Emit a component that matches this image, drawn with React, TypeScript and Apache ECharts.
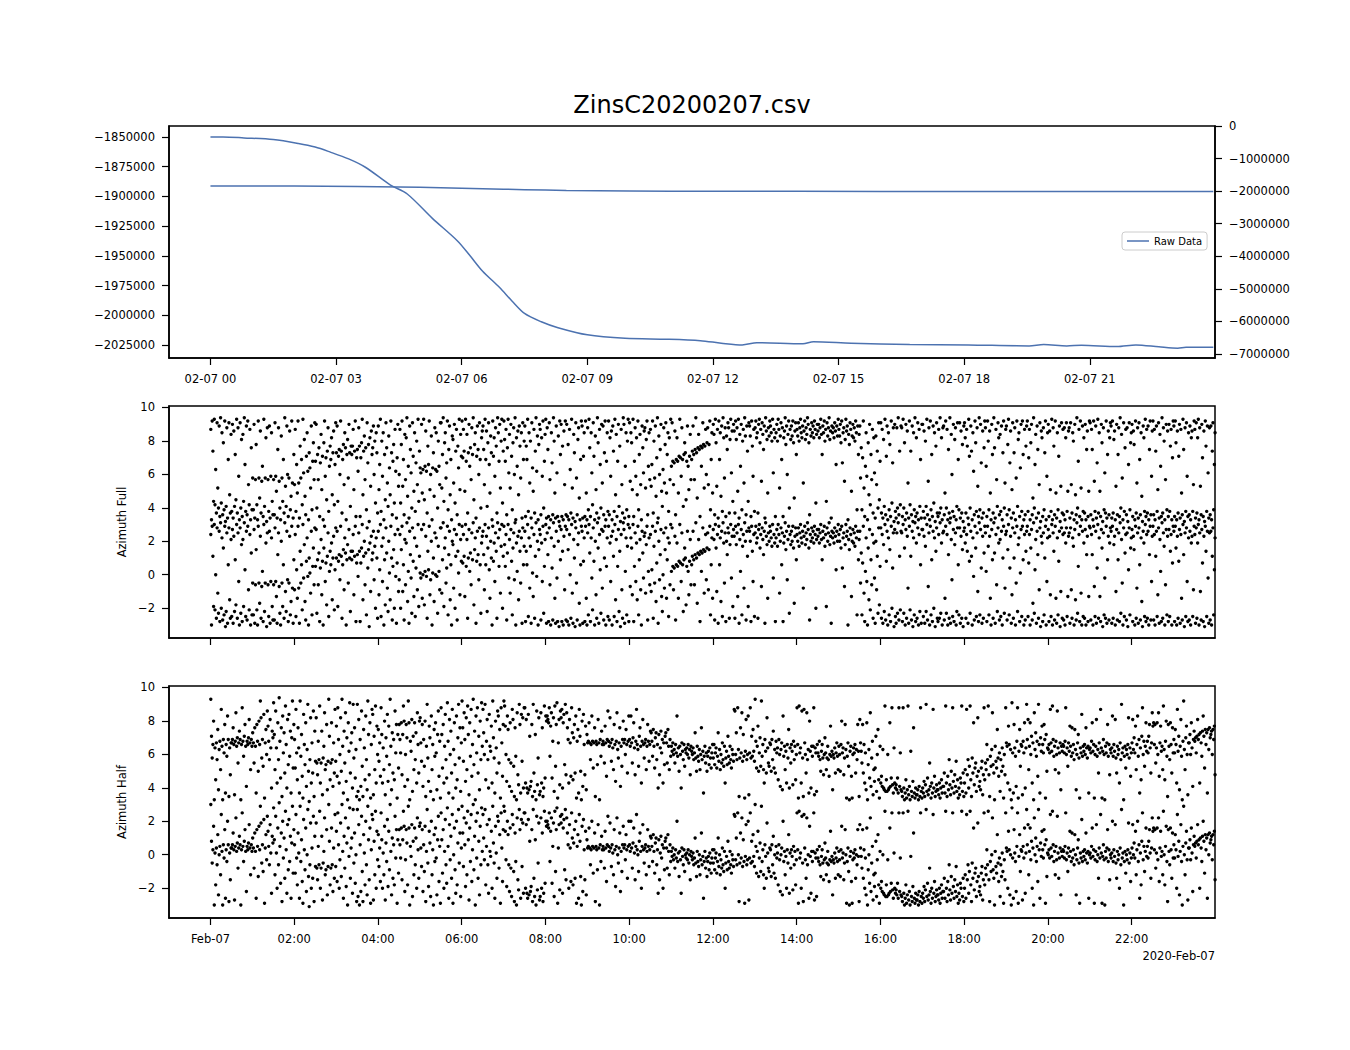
import React, { useEffect, useRef } from "react";
import * as echarts from "echarts";

// ---------- Top panel: raw data lines ----------
const rawLeftHours = [0, 0.3, 0.8, 1.5, 2.1, 2.5, 2.85, 3.3, 3.7, 4.3, 4.7, 5.3, 5.9, 6.2, 6.5, 6.9, 7.2, 7.5, 7.9, 8.3, 9.0, 9.9, 10.9, 11.7, 12.2, 12.7, 13.05, 14.15, 14.4, 15.3, 16.7, 18.1, 19.55, 19.9, 20.45, 20.8, 21.65, 22.1, 22.65, 23.1, 23.3, 23.95];
const rawLeftValues = [-1850000, -1850000, -1850800, -1852200, -1855500, -1858500, -1862600, -1868500, -1875500, -1890500, -1898000, -1918500, -1937500, -1950000, -1963000, -1976500, -1988000, -1998500, -2005500, -2010500, -2016500, -2019400, -2020200, -2021400, -2023500, -2025000, -2023200, -2024100, -2022400, -2023600, -2024600, -2025000, -2025800, -2024700, -2025800, -2025200, -2026400, -2025000, -2026600, -2027700, -2026900, -2026900];

const rawRightHours = [0, 2, 3.5, 4.5, 5.5, 6.5, 7.5, 8.5, 10, 12, 16, 20, 23.95];
const rawRightValues = [-1840000, -1845000, -1857000, -1870000, -1895000, -1925000, -1955000, -1980000, -1995000, -2003000, -2008000, -2010000, -2012000];

const topTickHours = [0, 3, 6, 9, 12, 15, 18, 21];
const bottomTickHours = [0, 2, 4, 6, 8, 10, 12, 14, 16, 18, 20, 22];
const leftTicks = [-2025000, -2000000, -1975000, -1950000, -1925000, -1900000, -1875000, -1850000];
const rightTicks = [-7000000, -6000000, -5000000, -4000000, -3000000, -2000000, -1000000, 0];
const azimuthTicks = [-2, 0, 2, 4, 6, 8, 10];

// ---------- Azimuth samples, read per half-hour window (radians, -pi..pi) ----------
const azimuthFullByHalfHour = [
  [2.4, -3.0, 2.9, 1.1, -1.9, 3.0, -2.1, 0.0, -2.6, 2.8, -1.1, -2.3, 2.6, -2.8, 3.1, -2.0, 2.2, -2.7, 1.6, -2.4, 2.9, -3.1, -2.2, 2.5, -2.9, 0.6, 2.8, -1.5, -2.6, 2.1],
  [-2.5, 2.7, -2.9, 2.3, -2.2, 0.9, -1.8, 3.0, -2.6, 2.5, -0.4, -3.0, 2.8, -2.3, 1.8, -2.8, 2.1, -1.9, 3.1, 0.3, -2.5, 2.6, -2.7, 2.9, -0.9, -2.1, 2.4, -3.0, 1.3, -2.4],
  [-0.5, -2.4, 2.7, -2.9, -0.6, 1.5, -2.1, -3.0, 2.9, -0.5, -1.7, 2.3, -2.6, -0.7, 0.2, -2.8, 3.0, -2.2, -0.5, 1.9, -3.1, 2.5, -0.6, -2.5, 2.6, -2.9, -0.4, 2.2, -1.9, -2.7],
  [-0.6, -2.7, 2.8, -0.4, -1.3, -2.9, 1.2, 2.5, -0.7, -2.3, -3.0, 2.0, -0.5, -1.9, 0.6, -2.6, 3.1, -1.0, -2.2, 2.6, -0.3, -2.8, -0.5, 2.3, -2.4, -1.6, 2.9, -0.8, -2.9, 0.9],
  [-0.9, 2.4, -2.5, 0.3, -1.4, 2.9, -0.8, -2.9, 1.4, -0.5, 0.6, -2.1, 3.0, -0.2, 1.8, -1.6, -2.7, 0.8, 2.2, -0.1, -3.0, 1.0, 0.1, -1.1, 2.6, -2.4, 0.5, 1.6, -0.6, 2.8],
  [0.5, 2.7, -2.3, 0.9, -0.6, 1.3, -2.8, 0.4, 2.1, -1.2, 0.8, -3.0, 1.6, 2.9, -0.4, 0.7, -1.8, 1.1, 2.5, -2.5, 0.2, 1.4, 0.6, 1.9, -1.5, 1.0, 2.3, -2.1, 0.3, 2.8],
  [1.0, 2.6, -1.9, 0.8, 1.2, -0.3, 2.9, 1.1, -2.6, 0.6, 1.5, -0.9, 2.2, 1.3, -3.0, 0.9, 1.8, -0.5, 2.7, 1.0, -2.2, 1.4, 0.9, 1.4, 2.4, -1.2, 1.1, 2.9, -2.8, 0.7],
  [1.2, -0.1, 2.5, 1.4, -2.8, 0.7, 1.6, 3.0, -1.5, 1.1, 2.0, -0.6, 1.3, -2.4, 2.8, 0.4, 1.5, -3.1, 1.9, -1.0, 2.3, 0.9, 1.3, 2.6, -0.3, 1.7, -2.0, 2.2, 1.0, -2.6],
  [2.6, -1.2, 0.3, 3.0, -2.5, 1.7, -0.4, 2.2, -3.0, 0.9, -1.8, 2.8, 1.3, -0.8, -2.2, 2.0, 0.1, -1.5, 2.9, 1.0, -2.7, 0.5, 1.5, -2.0, 2.4, -0.1, -2.9, 0.7, 2.7, -1.0],
  [-0.3, 2.4, -2.0, 1.5, 2.9, -1.0, 0.6, -2.7, 2.1, -0.6, 1.9, 3.1, -1.6, 0.2, -2.9, 2.6, 1.2, -0.2, -2.3, 2.8, 0.8, -1.3, 2.2, -2.5, 0.4, 1.7, -0.9, 3.0, -1.9, 1.1],
  [0.1, -0.2, 2.7, -1.4, 0.0, 3.0, -1.8, 0.2, 2.3, -0.1, -2.6, 1.4, 0.3, 2.9, -1.2, -0.3, 2.0, -3.0, 0.1, 1.0, -1.6, 2.5, 0.0, 2.2, -0.1, -2.3, 1.7, 0.2, -0.9, 2.8],
  [2.8, -1.1, 0.9, 3.1, -1.9, 1.6, 2.2, -0.5, 0.4, 2.9, -2.4, 1.2, 2.6, -1.5, 0.6, -3.0, 2.0, 1.8, -0.8, 2.7, -2.0, 1.1, 2.4, -2.7, 1.4, 0.1, 3.0, -1.2, 2.1, 0.8],
  [2.9, 0.7, 2.4, 1.1, -1.3, 3.0, 0.5, 2.1, -2.6, 1.0, 2.7, 0.2, 1.3, -0.6, 2.5, 0.9, 3.1, -1.8, 1.5, 2.2, -2.9, 0.8, 2.6, 1.2, -0.3, 2.8, 0.6, -2.3, 1.9, 2.3],
  [2.6, 1.2, -0.9, 3.0, 0.6, 2.3, -2.2, 1.6, 2.8, 0.3, -1.4, 2.0, 1.0, -3.0, 2.9, 0.8, 1.9, -0.4, 2.5, 1.4, -2.6, 3.1, 2.2, 0.5, 2.7, -1.1, 1.7, 3.0, -2.0, 1.1],
  [2.9, 1.8, 0.5, 2.4, -2.7, 1.3, 3.0, -0.2, 2.1, -1.1, 2.7, 0.8, -2.4, 1.6, 2.5, -0.3, 3.1, -3.0, 1.9, 0.2, 2.3, -1.5, 2.6, 1.4, -0.5, 2.2, -2.9, 2.8, 0.6, 1.7],
  [2.6, -2.8, 1.4, 0.6, 3.0, -2.5, 2.2, -0.8, 1.7, -2.9, 2.8, 0.1, -1.3, 2.4, -2.6, 1.1, 3.1, -0.1, 2.0, -3.0, 1.5, 2.7, 2.4, -2.7, 1.9, -0.4, 2.9, -2.3, 0.5, 2.1],
  [3.0, -2.9, 2.5, 1.2, -2.8, 2.8, -0.6, -3.0, 2.2, 0.4, -2.7, 3.1, 1.7, -1.4, -2.9, 2.6, -0.2, -2.8, 2.0, -3.1, 2.9, 0.9, 2.7, -2.8, 1.4, -3.0, 2.3, -0.9, 2.9, -2.7],
  [2.7, -2.8, 1.5, -3.0, 2.4, 0.0, -2.6, 3.0, -1.1, -2.9, 2.1, 1.0, -3.1, 2.8, -0.5, -2.7, 1.8, 2.5, -1.7, -3.0, 0.6, 2.9, 2.6, -2.9, 0.8, 2.2, -2.8, 2.9, -1.4, -3.0],
  [2.5, -2.4, 3.0, 1.3, -2.8, 2.2, -0.2, -2.1, 2.8, 0.8, -3.0, 2.0, -1.2, -2.6, 3.1, 1.6, -2.9, 2.4, 0.3, -2.3, 2.7, -0.8, 2.6, -2.7, 1.0, 2.9, -3.0, 0.5, 2.2, -2.5],
  [2.9, -2.7, 1.9, -0.4, 2.3, -3.0, 2.6, 1.1, -2.5, 3.0, -1.5, 2.1, -2.8, 0.5, 2.7, -2.2, 1.4, -3.1, 2.4, -0.9, -2.6, 3.1, 2.7, -2.9, 0.2, 2.2, -2.4, 1.7, 3.0, -2.8],
  [2.8, -0.7, 2.2, 1.6, -1.2, 3.0, -2.8, 0.5, 2.5, -0.4, 1.9, -1.5, 2.9, -2.4, 0.9, 2.1, -0.9, -3.0, 2.6, 1.3, -0.2, 2.3, 2.5, -1.1, 1.8, 2.9, -2.7, 0.2, 2.2, -0.6],
  [2.4, -1.0, 0.3, 2.9, -2.6, 1.7, -0.5, 2.6, -1.6, 0.7, 3.1, -2.9, 2.0, -0.3, 1.2, 2.7, -1.3, -2.2, 0.0, 2.5, -0.8, 1.5, 2.8, -1.4, 0.9, 2.2, -2.5, 1.9, -0.6, 3.0],
  [0.2, 2.8, 0.5, -0.9, 0.4, 2.3, -2.7, 0.6, 1.9, 0.5, -1.4, 0.8, 3.0, 0.7, -0.4, 2.5, 0.6, -2.2, 0.9, 1.6, 1.0, -1.8, 0.5, 2.6, 0.2, -1.2, 0.8, 2.1, -0.6, 0.6],
  [1.1, 2.6, 0.9, -0.6, 1.2, 3.1, 1.0, -1.7, 1.3, 2.1, 1.2, -2.8, 1.4, 0.2, 1.3, 2.8, 1.5, -1.1, 1.4, 2.4, -0.3, 1.6, 2.5, -0.9, 1.5, 2.9, -2.4, 0.6, 2.2, -1.4],
  [2.7, 2.1, -2.7, 3.0, 1.6, -1.0, 2.4, -2.9, 2.9, 0.6, 2.2, -1.6, 2.6, -2.5, 3.1, 1.9, -0.5, 2.5, -2.8, 2.0, 1.2, 2.8, 2.5, -2.6, 1.8, 3.0, -0.2, 2.3, -1.9, 2.7],
  [2.3, -2.6, 2.9, 1.8, 2.5, -1.3, 3.0, -2.9, 2.1, 0.2, 2.7, -2.4, 1.7, 2.4, -0.8, 3.1, 2.0, -2.7, 2.6, 1.1, -1.9, 2.8, 2.6, 2.0, -2.8, 2.9, 1.4, -0.4, 2.4, -2.5],
  [2.5, 2.9, 1.9, 2.2, -2.6, 2.7, 3.0, 1.6, 2.4, -0.7, 2.8, 2.1, 1.2, 2.6, -2.9, 3.1, 2.3, 1.8, -1.4, 2.5, 2.0, 2.9, 2.6, 2.2, 1.7, 3.0, -0.2, 2.4, 1.9, -2.8],
  [2.2, 2.7, 1.7, 3.0, 2.4, -1.1, 2.0, 2.8, 0.6, 2.5, -2.8, 1.9, 2.3, 3.1, 1.5, 2.6, -0.3, 2.1, 2.9, -2.3, 2.4, 1.8, 2.6, 2.0, 2.9, 1.6, -1.7, 2.3, 2.8, 0.9],
  [2.4, 2.0, 2.8, 1.7, 2.5, 3.0, 2.2, 1.9, 2.6, -0.8, 2.3, 2.9, 1.8, 2.5, 2.1, 3.1, 2.7, 1.6, -2.7, 2.4, 2.0, 2.8, 2.2, 2.6, 1.9, 2.9, 2.4, -2.0, 2.1, 2.7],
  [2.3, 2.7, 1.9, 2.5, 3.0, 2.1, 0.9, 2.6, 2.2, 2.9, 1.7, 2.4, -1.9, 2.8, 2.0, 2.5, 3.1, 1.8, 2.3, -2.9, 2.6, 2.2, 2.5, 1.9, 2.8, 2.3, 0.3, 2.6, 2.0, 3.0],
  [2.4, 2.0, 2.7, 1.6, 2.9, 0.4, 2.2, 2.5, -0.7, 1.8, 3.0, 2.3, 2.6, -3.0, 2.1, 1.5, 2.8, 2.4, -1.3, 2.0, 2.7, 1.9, 2.5, 1.7, 2.9, 2.2, -2.4, 2.6, 0.9, 2.1],
  [2.6, -0.5, 1.3, -2.4, 0.7, 2.9, -1.1, -2.8, 0.2, 2.2, -0.4, -3.0, 1.6, -1.5, 2.7, -2.1, 0.9, -0.6, 2.4, -2.6, 1.9, -0.2, -2.9, 2.0, -0.9, 1.1, -2.3, 2.8, -1.8, 0.5],
  [2.8, -2.6, 2.4, -2.9, 1.8, -2.2, 3.0, -2.7, 0.8, 2.6, -3.0, 2.2, -2.4, 1.5, -2.8, 2.9, -2.0, 0.4, 2.5, -3.1, 2.7, -2.5, -2.9, 2.5, -2.3, 3.1, -2.7, 1.1, -2.1, 2.6],
  [2.5, -2.8, 3.0, -2.3, 1.6, -3.0, 2.7, -2.6, 2.3, -0.8, -2.9, 2.9, -2.1, 1.1, -2.7, 2.6, -3.1, 2.2, -2.4, 3.1, -2.8, 1.9, -2.6, 2.8, -3.0, 2.4, -2.2, 0.6, -2.9, 2.7],
  [2.7, -2.5, 2.3, -2.9, 1.7, -2.2, 3.0, -2.7, -0.7, 2.5, -3.0, 2.9, -2.4, 0.9, -2.8, 2.6, -2.0, 2.2, -3.1, 1.4, 2.8, -2.6, -2.8, 2.4, -2.6, 3.1, -2.3, 1.9, -3.0, 2.5],
  [2.6, -2.7, -1.4, 2.9, -2.3, 2.4, -3.0, 1.2, -2.6, 3.1, -2.9, 2.1, -0.3, -2.5, 2.7, -2.8, 1.8, 2.5, -3.0, -2.2, 2.8, 0.6, -2.4, 2.8, -2.9, 2.3, -2.6, 1.5, -3.1, 2.6],
  [2.8, 1.9, -2.6, 2.4, 1.4, -2.9, 3.0, 0.8, -2.3, 2.6, 1.1, -3.0, 2.2, -0.1, -2.7, 2.9, 1.6, -2.5, 2.5, -1.0, -2.8, 3.1, -2.4, 2.7, 0.4, -2.9, 2.3, -2.6, 1.3, 2.9],
  [2.5, 0.2, -2.8, 2.9, 1.7, -2.4, 2.3, -1.4, -3.0, 2.7, 0.9, -2.6, 3.1, 1.3, -2.9, 2.4, -0.6, -2.2, 2.8, 1.9, -2.7, 2.1, -2.5, 2.6, -3.0, 1.0, 2.9, -2.3, -0.8, 2.4],
  [2.6, -2.7, 1.5, 3.0, -2.4, 0.4, 2.3, -2.9, -1.2, 2.8, -2.6, 1.0, 2.5, -3.0, -0.5, 2.9, -2.2, 1.8, 2.2, -2.8, 0.1, 2.7, -2.5, 2.9, 0.9, -3.0, 2.4, -2.7, 1.4, 2.6],
  [2.9, -2.5, 0.7, 2.4, -3.0, 1.6, 2.7, -2.7, -1.7, 3.1, -2.3, 0.3, 2.1, -2.9, 2.6, 1.2, -2.6, -0.9, 2.8, -3.1, 2.3, 1.9, -2.8, 2.5, -2.4, 1.0, 2.9, -3.0, -0.4, 2.2],
  [2.7, -2.8, 2.3, -1.2, -2.5, 3.0, -3.0, 2.5, 1.4, -2.7, 2.9, -1.4, -2.9, 2.2, -2.4, 0.8, 2.6, -3.1, -1.0, 2.8, -2.6, 2.4, -2.7, 2.5, -3.0, 1.9, 2.8, -2.5, -1.3, 2.3],
  [2.5, -2.9, 2.8, -0.9, -2.6, 2.2, 1.7, -3.0, 2.7, -1.5, -2.7, 3.1, -2.3, 0.5, 2.4, -2.8, 2.9, -1.1, -3.0, 2.6, -2.5, 1.9, -2.6, 2.7, -3.0, 1.2, 2.3, -2.8, -1.3, 2.9],
  [2.8, -2.7, 2.4, 1.2, -3.0, 2.9, -0.7, -2.5, 2.6, -2.9, 0.4, 3.0, -2.6, 2.2, -1.3, -2.8, 2.7, 1.6, -3.1, 2.5, -2.4, -0.2, -2.6, 2.9, -2.9, 0.9, 2.3, -2.7, 1.9, 2.8],
  [2.6, -2.9, 2.9, -2.6, 1.8, 2.3, -3.0, -1.0, 2.7, -2.7, 0.9, 2.5, -2.8, 3.1, -2.3, 2.1, -0.5, -3.0, 2.8, -2.5, 1.3, 2.4, -2.7, 2.5, -3.1, 0.3, 2.8, -2.4, 1.6, 2.2],
  [2.7, -2.8, 2.3, 1.5, -3.0, 2.9, -2.6, -0.8, 2.5, -2.9, 2.8, 0.6, -2.7, 2.2, -1.6, -3.1, 2.6, 1.9, -2.5, 3.0, -2.8, 2.4, -2.6, 2.6, -3.0, 1.2, 2.9, -2.7, -0.4, 2.3],
  [2.9, -2.7, 2.4, -3.0, 1.1, 2.6, -2.5, -1.2, 2.8, -2.9, 2.1, 0.2, -2.8, 3.1, -2.6, 2.5, 1.7, -3.0, -0.6, 2.7, -2.4, 2.3, -2.8, 2.7, -2.5, 1.4, 2.4, -3.0, 0.7, 2.9],
  [2.6, -2.8, 2.9, 1.6, -3.0, 2.3, -2.6, 0.8, 2.7, -2.9, 2.4, -1.4, -2.7, 3.0, 1.2, -3.1, 2.5, -2.5, 2.8, -0.4, -2.8, 2.2, -2.7, 2.6, -3.0, 1.9, 2.3, -2.5, -0.9, 2.9],
  [2.4, -2.9, 2.8, -2.6, 1.9, 3.0, -3.0, 2.5, -1.0, -2.7, 2.7, 0.7, -2.8, 2.3, -3.1, 2.9, 1.4, -2.5, 2.6, -0.2, -2.9, 2.5, -2.7, 2.6, -3.0, 1.1, 2.8, -2.4, 0.3, 2.2],
];

const azimuthHalfByHalfHour = [
  [3.0, 0.8, -0.5, 0.3, 1.7, -3.0, 0.1, -1.8, 0.4, -0.6, 1.2, -2.4, 0.0, 0.5, -1.2, 2.4, 0.2, -3.0, 0.6, -0.2, 1.5, -2.6, 0.3, -0.4, 2.0, 0.6, -2.8, 0.1, -1.5, 0.4],
  [0.4, 0.6, 1.3, 0.3, -2.7, 0.5, 2.2, 0.2, 0.7, -0.8, 0.4, 1.1, 0.6, -3.0, 0.3, 2.5, 0.5, -0.4, 0.8, 1.5, 0.2, -2.2, 0.5, 0.3, 0.7, 1.8, 0.4, -1.2, 0.6, 0.2],
  [1.0, 0.4, -0.8, 1.3, 0.2, -2.6, 1.5, 0.5, -1.3, 1.7, 0.3, 2.9, 1.9, -0.5, 0.6, -1.0, 2.1, -2.9, 0.4, 1.2, -0.3, 2.3, 1.4, 0.5, -0.6, 1.8, 0.1, -2.3, 1.1, 0.7],
  [2.8, 0.9, -1.2, 2.3, 0.1, -2.0, 1.6, -0.6, 3.1, 0.5, -1.7, 1.3, -2.8, 2.0, -0.2, 1.0, -1.4, 2.6, 0.3, -2.3, 1.8, -0.9, 2.1, -0.4, 1.1, -2.6, 0.7, 2.9, -1.1, 1.5],
  [0.6, -1.1, 2.4, -0.2, -1.8, 1.3, 0.1, -2.6, 2.9, -0.4, 0.9, -1.6, -2.9, 2.1, 0.3, -0.9, 1.6, -2.2, 0.0, 2.7, -1.3, -3.1, -0.6, 1.9, -2.0, 0.4, -1.4, 2.3, -2.8, 1.1],
  [-0.7, 1.9, -0.8, -1.5, 0.5, -0.6, 2.6, -2.0, -0.8, 1.1, -2.7, -0.5, 0.2, 2.2, -1.2, -0.9, 1.5, -2.4, -0.7, 3.0, 0.8, -1.8, -0.8, 1.6, -0.6, -2.2, 0.4, -1.4, 2.4, -0.7],
  [1.4, -1.6, 2.5, 0.6, -2.0, -0.3, 1.9, -1.3, 3.0, 0.2, -2.6, 1.1, -0.8, 2.2, -1.9, 0.7, -3.0, 1.6, -0.1, 2.8, -1.4, 0.4, 1.0, -2.3, 2.7, -0.5, 1.3, -1.7, 0.0, -2.8],
  [2.7, -2.5, 1.8, -3.0, 0.6, -2.2, 2.3, -1.0, -2.8, 1.2, 0.1, -1.8, 2.0, -0.6, -2.4, 2.9, 0.9, -1.5, 1.6, -2.9, 0.3, 2.4, 2.1, -2.7, 0.8, -1.2, 2.6, -2.0, 1.4, -0.3],
  [1.2, -0.7, 0.4, -1.6, 2.5, 0.9, -2.0, 0.1, -1.2, 1.7, -2.7, 0.7, -0.4, 2.1, -1.9, 1.4, -0.9, 3.0, 0.2, -2.4, 1.0, -1.4, 0.6, -1.8, 2.3, -0.2, 1.5, -2.9, 0.9, -1.1],
  [1.5, 0.6, -0.2, 1.6, -1.5, 0.9, 2.6, 1.7, -2.2, -0.3, 1.5, 0.7, -1.8, 2.9, 1.6, -3.0, 0.5, -0.1, 1.8, -2.5, 0.8, -1.2, 1.6, -0.6, 1.0, -2.0, 2.2, 0.3, -1.4, 1.7],
  [1.9, 0.4, -0.7, 1.5, -2.2, 0.6, -1.0, 1.7, -2.8, 0.2, 2.7, -0.5, -1.9, 1.4, 0.7, -2.5, 2.0, -1.2, 0.3, -3.0, 1.2, -0.4, 1.6, -0.2, -2.4, 0.9, 2.3, -1.6, 0.5, -2.9],
  [2.5, 0.9, -1.1, 1.5, -2.0, 0.2, 2.1, -0.6, -1.7, 2.8, 0.5, -2.6, 1.8, -0.3, 1.1, -1.4, 2.4, -2.9, 0.0, 1.6, -0.9, -2.3, 2.0, -1.8, 0.7, 2.7, -0.5, 1.3, -2.5, 0.4],
  [2.9, 1.3, -0.7, 2.2, 0.6, -1.9, 1.9, -1.2, 2.6, 0.9, -2.7, 1.6, -0.4, 2.4, -1.6, 0.3, 3.0, -0.9, 1.1, -3.0, 2.0, -0.2, 2.5, -1.4, 0.8, -2.4, 1.7, -0.6, 2.8, 0.2],
  [2.4, 1.0, -0.3, 2.7, -1.8, 0.5, 1.8, -0.6, -2.3, 2.1, 0.2, -0.1, 1.4, -2.0, 2.9, 0.7, -0.5, -2.6, 1.7, 0.1, -1.4, 2.3, 2.0, -0.8, 1.2, -2.9, 2.5, 0.4, -1.6, 1.5],
  [2.9, 2.6, 1.4, -0.3, -1.9, 2.0, 1.2, -0.6, -2.2, 1.6, -0.8, -2.5, 2.4, 1.8, -1.0, -2.8, 1.3, -0.4, -3.0, 2.2, -1.5, -2.1, 2.7, 1.5, -2.6, 2.1, -0.7, 1.9, -2.3, 2.5],
  [2.5, -2.0, 1.8, -2.3, -2.6, 2.1, -2.4, 0.8, -2.2, -1.9, 1.5, -2.8, 2.7, -1.4, -2.5, 0.9, -3.0, 2.3, -2.1, -0.5, 1.9, -2.7, -2.5, 2.2, -2.0, 1.3, -2.8, -2.3, 2.6, -1.7],
  [2.0, 1.7, 2.0, 1.8, 1.6, 2.5, -0.4, 1.4, 2.2, -1.7, 0.5, 1.9, -2.5, 2.6, -1.0, 1.5, 2.8, -2.9, 0.4, 1.8, -2.1, 2.3, 1.9, 2.4, -2.3, 1.6, 2.1, -0.9, 2.7, -1.5],
  [2.2, 1.3, 0.6, -2.0, 1.8, 0.4, -1.6, 2.5, 1.0, -1.8, 0.7, 1.5, -1.4, 2.0, -2.9, 0.5, 1.2, -2.6, 2.4, 0.8, -1.3, -3.0, 1.7, -2.2, 2.1, 0.3, -1.5, 1.4, -2.4, 0.9],
  [0.4, 0.5, 1.6, 0.4, -0.6, 0.3, 2.0, 0.5, -1.1, 0.4, 1.3, -2.8, 0.5, 0.3, -0.9, 1.8, 0.4, -3.0, 0.6, -0.4, 1.1, 0.3, 0.5, 0.3, -0.8, 1.4, 0.4, -1.6, 0.6, 2.3],
  [0.5, 0.2, 1.9, 0.4, -0.7, 0.6, 0.1, -1.2, 1.5, 0.3, -1.9, 0.5, 2.2, 0.0, -0.5, 0.4, 1.3, -2.2, 0.2, -1.0, 0.6, 1.7, 0.4, 0.6, -0.3, 1.2, 0.3, -1.4, 0.5, 2.0],
  [0.6, 0.2, 2.0, 0.4, -0.8, 0.7, 1.6, 0.1, -1.5, 0.5, 2.4, 0.3, 0.0, -1.0, 0.8, 1.3, 0.2, -2.0, 0.5, 1.8, 0.3, -0.5, 0.4, 0.6, -1.2, 0.2, 1.5, 0.5, -0.7, 0.3],
  [1.1, 1.0, 0.5, -0.4, 1.2, 0.2, -1.1, 0.7, 1.0, -0.6, 0.3, -2.3, 0.9, -1.5, 0.1, 1.1, -0.2, 0.6, -2.0, 0.4, -0.9, 0.8, 1.0, 0.4, -0.8, 1.2, 0.2, -1.2, 0.6, -0.4],
  [0.2, -0.1, 0.4, -0.3, 0.0, -0.8, 0.3, -0.2, 2.0, -0.4, 0.1, -1.3, 0.2, -0.3, -2.3, 0.4, -0.1, -0.6, 0.3, -1.0, 0.0, -0.2, 0.1, -0.3, 0.3, -0.5, 0.0, -1.5, 0.2, -0.1],
  [-0.3, 0.1, -0.6, -0.2, 1.0, -0.5, -1.3, 0.2, -0.4, -0.7, 0.0, -1.2, -0.3, 1.3, -0.6, -0.1, -2.6, -0.4, 0.2, -0.8, -0.2, -1.3, -0.4, -0.1, -0.9, 0.1, -0.5, -1.1, -0.2, 0.3],
  [-0.5, 0.3, -0.9, -0.2, 0.1, -1.1, -0.4, 1.0, -0.7, 0.0, -1.2, -0.3, -0.8, 0.4, -0.6, -1.0, 0.2, -2.0, -0.5, -0.1, -0.9, 0.8, -0.4, -0.8, 0.2, -0.6, -1.1, 0.0, -0.3, -0.7],
  [2.4, 2.3, -0.3, 1.0, -0.6, 2.5, 0.0, -2.8, -0.5, 1.3, -0.2, 2.2, -0.7, 0.9, -0.4, -2.9, -0.1, 1.8, -0.6, -0.3, 2.0, -2.7, -0.2, 2.5, -0.5, 0.8, -0.4, 1.2, -0.1, -0.7],
  [3.0, 0.5, -1.1, 0.2, 1.4, -1.3, -0.2, 0.7, -1.0, 2.9, -0.4, 0.3, -1.2, -2.0, 0.6, -0.1, -1.4, 1.9, 0.1, -0.8, -1.0, 0.4, 0.3, -1.3, 0.6, -0.6, 1.1, -1.1, 0.0, -1.4],
  [0.5, -0.2, 0.1, -1.8, 0.6, -0.3, -2.2, 0.0, 0.4, -2.4, 2.0, -0.4, 0.2, -1.2, -0.1, -2.0, 0.3, -0.5, 1.2, -2.3, 0.1, -0.8, 0.3, -0.1, -2.1, 0.5, -0.6, 0.2, -1.8, -0.3],
  [2.5, 0.3, -2.9, 2.6, -0.2, 0.1, -2.0, 2.3, -0.5, -2.8, 2.4, 0.4, -0.3, -1.4, 2.2, -0.6, 0.0, -2.6, 1.7, -0.1, -2.3, 0.2, -0.4, 0.2, 2.5, -2.7, 0.1, -0.2, -2.5, 0.3],
  [-0.2, -0.4, 0.5, -0.6, -1.3, -0.1, 0.3, -0.5, -1.5, -0.3, 0.7, -0.2, -1.2, -0.5, 0.2, -0.6, -1.6, -0.3, 1.4, -0.4, -0.1, -2.4, -0.3, -0.5, 0.1, -1.4, -0.2, 0.4, -0.4, -1.2],
  [0.2, -0.3, -1.3, 0.3, 1.7, -0.2, 0.1, -1.5, -0.5, 1.5, 0.0, -2.9, -0.4, 0.4, -1.0, -3.0, -0.1, 0.2, -1.6, -2.9, -0.3, 0.1, -0.2, 0.3, -1.4, 0.0, -0.6, 1.5, -0.1, -2.8],
  [1.8, 0.4, -0.1, -0.8, 1.5, -1.4, 0.3, -2.0, -0.2, -2.4, 1.6, -3.0, -0.9, 0.0, -1.7, 2.2, -2.2, -0.5, 0.5, -2.7, -1.2, -1.9, -1.1, 0.8, -2.5, -0.3, 1.2, -1.8, -2.9, 0.2],
  [-2.0, -1.6, -2.2, 0.0, -2.3, -2.4, 2.6, -2.5, -1.8, -2.5, -0.3, -2.4, -2.3, 1.6, -2.2, -1.7, 2.5, -2.1, -2.6, 0.1, -2.0, -2.3, -2.1, -2.4, -1.7, -2.6, 2.5, -2.2, -0.2, -2.4],
  [-2.5, -2.8, 2.5, -2.3, -3.0, -2.6, -1.8, -2.9, -2.4, 2.6, -2.7, -2.2, -3.0, -0.1, -2.5, -2.8, -1.9, 1.3, -2.6, -2.9, -2.3, -2.7, -2.7, -2.4, -3.0, -2.2, -2.8, 2.5, -2.5, -2.9],
  [-2.3, -2.6, -1.9, -2.8, -2.1, 2.7, -2.5, -1.7, -2.7, -2.4, -0.8, -2.2, -2.9, -2.0, -2.6, 2.4, -2.3, -1.6, -2.8, -2.5, -2.1, -2.4, -2.4, -2.7, -2.0, -2.9, -2.3, -1.8, -2.6, -2.2],
  [-2.2, -1.4, -2.6, 2.6, -2.0, -2.8, -1.6, -2.4, -0.6, -2.1, -2.7, -1.3, -2.3, 2.5, -1.9, -2.6, -1.5, -2.2, -0.7, -2.5, -1.8, -2.9, -2.3, -2.7, -1.7, -2.0, 2.6, -2.5, -1.4, -2.8],
  [-2.0, -1.2, -2.6, 2.4, -1.5, -0.6, -2.3, -1.0, 2.6, -1.8, -2.8, -0.5, -1.4, 1.6, -2.1, -1.1, -0.8, -2.5, -1.6, 1.9, -1.3, -2.2, -1.9, -2.4, -1.1, -0.7, -2.7, -1.5, 2.5, -1.8],
  [-0.8, -1.2, 0.3, -0.6, 2.6, -1.5, -2.8, -0.4, -1.0, 0.0, 2.2, -0.9, -1.4, -3.0, 0.2, -0.7, -1.1, 1.2, -0.5, -1.6, -0.2, -2.5, -0.6, -1.3, 0.1, -1.0, -2.9, -0.3, -1.5, 2.5],
  [0.4, 0.2, -2.0, 1.4, 0.3, -2.4, 0.0, -3.0, 2.8, -0.2, -2.6, 1.5, 0.1, -0.4, -2.2, 0.5, 2.5, -2.9, -0.1, 1.2, -1.0, 0.3, 0.2, -2.7, 0.5, -0.2, 1.6, -2.3, 0.1, 2.7],
  [0.6, 1.8, -1.2, 0.2, 1.6, -0.3, 0.8, -2.0, 0.4, -3.0, 2.2, 0.0, 1.0, -0.4, 0.5, -1.6, 2.7, 0.3, -2.6, 0.7, -0.1, 1.4, 0.3, -0.2, 1.5, 0.6, -2.9, 0.9, -1.3, 0.1],
  [0.0, 0.3, -0.2, 2.4, 0.4, -0.1, 2.6, 0.6, -0.4, 0.2, -1.2, 0.5, -0.3, 2.3, 0.1, -1.4, -0.2, 0.4, -2.4, 0.2, -0.1, 0.3, 0.2, -0.2, 0.5, 2.5, -0.3, 0.1, -1.0, 0.4],
  [-0.1, 1.4, 0.2, -0.4, 1.3, -0.2, 0.3, -0.6, 1.2, 0.0, -2.4, -0.3, 0.4, 0.9, -0.5, -2.9, 0.1, -0.2, 2.1, -0.4, 0.2, -0.1, 0.3, -0.3, 1.3, 0.1, -0.5, 0.2, -2.6, 0.0],
  [0.1, -0.2, 0.5, 1.6, -0.1, 0.3, -2.9, -0.3, 0.2, 1.8, -0.4, 0.0, -1.4, 0.4, -0.2, 2.4, 0.1, -2.9, -0.1, 0.6, -0.3, -3.0, 0.2, -0.2, 0.4, 1.5, -0.4, 0.3, -1.5, 0.0],
  [-0.2, 0.1, 2.0, -0.4, 0.3, -0.1, 1.8, -0.5, -1.4, 0.2, -0.3, 0.0, -2.0, 0.4, -0.6, 2.7, -0.2, 0.1, -3.0, -0.4, 0.2, -1.1, 0.0, -0.3, 0.3, 1.9, -0.5, 0.1, -1.6, -0.2],
  [0.4, 1.8, 0.0, 0.7, -0.2, 1.4, -1.2, 0.3, 2.0, -0.4, 0.6, -2.6, 0.1, -1.8, 0.8, 2.5, -0.3, 0.5, -1.0, 0.2, 1.6, -0.1, 0.5, -0.2, 0.8, 1.5, 0.1, -1.4, 0.4, 2.2],
  [1.4, 1.6, 0.3, 1.5, -0.8, 0.1, 1.6, -0.3, 2.2, -1.6, 0.4, 1.4, -0.1, 0.2, -1.2, 2.6, 0.0, -1.8, 0.5, 1.7, -0.4, -2.8, 1.5, 0.2, -0.6, 1.6, 0.3, -1.4, 1.3, -0.2],
  [0.6, -0.2, 1.2, 0.3, -2.0, 2.4, -0.1, 0.8, -2.4, 0.2, 1.8, -0.4, -3.0, 0.5, 2.9, 0.0, -1.2, 0.7, 1.4, -0.3, -2.7, 0.4, 0.4, 0.9, -0.3, 1.6, 0.1, -2.2, 0.6, 1.1],
  [0.5, 0.7, -0.2, 0.8, 1.8, 0.6, 0.9, -2.0, 1.0, 0.4, -0.4, 1.1, 2.0, 0.8, -1.1, 1.2, 0.3, 1.0, -2.6, 1.2, 0.0, 1.3, 0.7, 0.9, 1.1, -0.3, 1.2, 0.6, 1.4, -1.5],
];

const WINDOW_HOURS = 0.5;
const X_MIN = -0.99;
const X_MAX = 23.99;
const FONT = "DejaVu Sans";
const LINE_COLOR = "#4c72b0";

function pad2(n: number) {
  return (n < 10 ? "0" : "") + n;
}
function minusFmt(v: number) {
  return v < 0 ? "\u2212" + Math.abs(v) : String(v);
}

// Each sample is plotted at its angle and at angle + 2*pi, as in the source figure.
function buildScatter(windows: number[][]) {
  const pts: number[][] = [];
  windows.forEach((vals, w) => {
    vals.forEach((v, i) => {
      const t = w * WINDOW_HOURS + ((i + 0.5) / vals.length) * WINDOW_HOURS;
      pts.push([t, v]);
      pts.push([t, v + 2 * Math.PI]);
    });
  });
  return pts;
}

function zip(xs: number[], ys: number[]) {
  return xs.map((x, i) => [x, ys[i]]);
}

const labelStyle = { color: "#000", fontSize: 11.5, fontFamily: FONT };
const axisLineStyle = { show: true, onZero: false, lineStyle: { color: "#000", width: 1.5 } };
const tickStyle = (vals: number[]) => ({
  show: true,
  inside: false,
  length: 7,
  lineStyle: { color: "#000", width: 1.2 },
  customValues: vals,
});

export default function App() {
  const ref = useRef<HTMLDivElement>(null);

  useEffect(() => {
    if (!ref.current) return;
    const chart = echarts.init(ref.current, undefined, { renderer: "svg" });
    const gridBase = {
      left: 169,
      width: 1046,
      height: 232,
      show: true,
      borderColor: "#000",
      borderWidth: 1.5,
      backgroundColor: "transparent",
    };
    const xBase = {
      type: "value" as const,
      min: X_MIN,
      max: X_MAX,
      splitLine: { show: false },
      axisLine: axisLineStyle,
    };
    const yAzimuth = (gridIndex: number) => ({
      type: "value" as const,
      gridIndex,
      min: -3.78,
      max: 10.08,
      splitLine: { show: false },
      axisLine: axisLineStyle,
      axisTick: tickStyle(azimuthTicks),
      axisLabel: { ...labelStyle, margin: 14, customValues: azimuthTicks, formatter: (v: number) => minusFmt(v) },
    });

    const option: any = {
      animation: false,
      backgroundColor: "#fff",
      grid: [
        { ...gridBase, top: 126 },
        { ...gridBase, top: 406 },
        { ...gridBase, top: 686 },
      ],
      xAxis: [
        {
          ...xBase,
          gridIndex: 0,
          axisTick: tickStyle(topTickHours),
          axisLabel: {
            ...labelStyle,
            margin: 15,
            customValues: topTickHours,
            formatter: (v: number) => "02-07 " + pad2(Math.round(v)),
          },
        },
        {
          ...xBase,
          gridIndex: 1,
          axisTick: tickStyle(bottomTickHours),
          axisLabel: { show: false },
        },
        {
          ...xBase,
          gridIndex: 2,
          axisTick: tickStyle(bottomTickHours),
          axisLabel: {
            ...labelStyle,
            margin: 15,
            customValues: bottomTickHours,
            formatter: (v: number) => (Math.round(v) === 0 ? "Feb-07" : pad2(Math.round(v)) + ":00"),
          },
        },
      ],
      yAxis: [
        {
          type: "value",
          gridIndex: 0,
          position: "left",
          min: -2036000,
          max: -1840800,
          splitLine: { show: false },
          axisLine: axisLineStyle,
          axisTick: tickStyle(leftTicks),
          axisLabel: { ...labelStyle, margin: 14, customValues: leftTicks, formatter: (v: number) => minusFmt(v) },
        },
        {
          type: "value",
          gridIndex: 0,
          position: "right",
          min: -7123000,
          max: 0,
          splitLine: { show: false },
          axisLine: axisLineStyle,
          axisTick: tickStyle(rightTicks),
          axisLabel: { ...labelStyle, margin: 14, customValues: rightTicks, formatter: (v: number) => minusFmt(v) },
        },
        yAzimuth(1),
        yAzimuth(2),
      ],
      legend: {
        data: ["Raw Data"],
        left: 1122,
        top: 232,
        icon: "rect",
        itemWidth: 22,
        itemHeight: 1.5,
        itemGap: 0,
        padding: [4, 5, 4, 5],
        borderColor: "#cccccc",
        borderWidth: 1,
        borderRadius: 3,
        backgroundColor: "rgba(255,255,255,0.8)",
        textStyle: { color: "#000", fontSize: 10, fontFamily: FONT },
        selectedMode: false,
      },
      graphic: [
        {
          type: "text",
          x: 692,
          y: 105,
          style: {
            text: "ZinsC20200207.csv",
            font: `24px "${FONT}"`,
            fill: "#000",
            textAlign: "center",
            textVerticalAlign: "middle",
          },
        },
        {
          type: "text",
          x: 122,
          y: 522,
          rotation: Math.PI / 2,
          style: {
            text: "Azimuth Full",
            font: `11.5px "${FONT}"`,
            fill: "#000",
            textAlign: "center",
            textVerticalAlign: "middle",
          },
        },
        {
          type: "text",
          x: 122,
          y: 802,
          rotation: Math.PI / 2,
          style: {
            text: "Azimuth Half",
            font: `11.5px "${FONT}"`,
            fill: "#000",
            textAlign: "center",
            textVerticalAlign: "middle",
          },
        },
        {
          type: "text",
          x: 1215,
          y: 956,
          style: {
            text: "2020-Feb-07",
            font: `11.5px "${FONT}"`,
            fill: "#000",
            textAlign: "right",
            textVerticalAlign: "middle",
          },
        },
      ],
      series: [
        {
          name: "Raw Data",
          type: "line",
          xAxisIndex: 0,
          yAxisIndex: 0,
          data: zip(rawLeftHours, rawLeftValues),
          showSymbol: false,
          symbol: "none",
          smooth: 0.3,
          lineStyle: { color: LINE_COLOR, width: 1.5 },
          itemStyle: { color: LINE_COLOR },
        },
        {
          name: "Raw Data",
          type: "line",
          xAxisIndex: 0,
          yAxisIndex: 1,
          data: zip(rawRightHours, rawRightValues),
          showSymbol: false,
          symbol: "none",
          smooth: 0.3,
          lineStyle: { color: LINE_COLOR, width: 1.5 },
          itemStyle: { color: LINE_COLOR },
        },
        {
          name: "Azimuth Full",
          type: "scatter",
          xAxisIndex: 1,
          yAxisIndex: 2,
          data: buildScatter(azimuthFullByHalfHour),
          symbolSize: 3.4,
          itemStyle: { color: "#000", opacity: 1 },
          silent: true,
        },
        {
          name: "Azimuth Half",
          type: "scatter",
          xAxisIndex: 2,
          yAxisIndex: 3,
          data: buildScatter(azimuthHalfByHalfHour),
          symbolSize: 3.4,
          itemStyle: { color: "#000", opacity: 1 },
          silent: true,
        },
      ],
    };
    chart.setOption(option);
    return () => chart.dispose();
  }, []);

  return (
    <div
      ref={ref}
      style={{ position: "absolute", left: 0, top: 0, width: 1350, height: 1050, background: "#fff" }}
    />
  );
}
